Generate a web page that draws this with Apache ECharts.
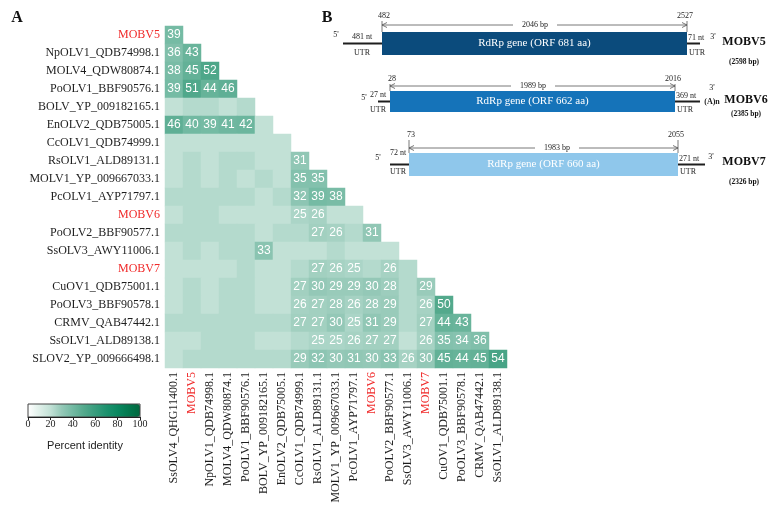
<!DOCTYPE html>
<html><head><meta charset="utf-8">
<script src="https://cdn.jsdelivr.net/npm/echarts@6/dist/echarts.min.js"></script>
<style>html,body{margin:0;padding:0;background:#fff}#c{width:772px;height:513px}</style>
</head><body><div id="c"></div>
<script>
// ---------- Panel A data ----------
const rowLabels = ['MOBV5','NpOLV1_QDB74998.1','MOLV4_QDW80874.1','PoOLV1_BBF90576.1','BOLV_YP_009182165.1',
  'EnOLV2_QDB75005.1','CcOLV1_QDB74999.1','RsOLV1_ALD89131.1','MOLV1_YP_009667033.1','PcOLV1_AYP71797.1',
  'MOBV6','PoOLV2_BBF90577.1','SsOLV3_AWY11006.1','MOBV7','CuOV1_QDB75001.1','PoOLV3_BBF90578.1',
  'CRMV_QAB47442.1','SsOLV1_ALD89138.1','SLOV2_YP_009666498.1'];
const colLabels = ['SsOLV4_QHG11400.1','MOBV5','NpOLV1_QDB74998.1','MOLV4_QDW80874.1','PoOLV1_BBF90576.1',
  'BOLV_YP_009182165.1','EnOLV2_QDB75005.1','CcOLV1_QDB74999.1','RsOLV1_ALD89131.1','MOLV1_YP_009667033.1',
  'PcOLV1_AYP71797.1','MOBV6','PoOLV2_BBF90577.1','SsOLV3_AWY11006.1','MOBV7','CuOV1_QDB75001.1',
  'PoOLV3_BBF90578.1','CRMV_QAB47442.1','SsOLV1_ALD89138.1'];
// percent identity, lower triangle (row i has cols 0..i); unlabeled cells estimated from shade
const identity = [
  [39],
  [36,43],
  [38,45,52],
  [39,51,44,46],
  [20,23,23,20,23],
  [46,40,39,41,42,20],
  [20,20,20,20,20,20,20],
  [20,23,20,23,23,20,20,31],
  [20,23,20,23,20,23,20,35,35],
  [23,23,23,23,23,20,23,32,39,38],
  [20,23,23,20,20,20,20,25,26,20,20],
  [23,23,23,23,23,20,23,23,27,26,23,31],
  [20,23,20,23,23,33,20,20,20,23,20,20,20],
  [20,20,20,20,23,20,20,23,27,26,25,23,26,23],
  [20,23,20,23,23,20,20,27,30,29,29,30,28,23,29],
  [20,23,20,23,23,20,20,26,27,28,26,28,29,23,26,50],
  [23,23,23,23,23,23,23,27,27,30,25,31,29,23,27,44,43],
  [20,20,23,23,23,20,20,23,25,25,26,27,27,20,26,35,34,36],
  [20,23,23,23,23,23,23,29,32,30,31,30,33,26,30,45,44,45,54]
];
const highlighted = ['MOBV5','MOBV6','MOBV7'];
const labelThreshold = 25;

// ---------- Panel B data ----------
const genomes   = ['MOBV5','MOBV6','MOBV7'];
const genomeLen = [2598, 2385, 2326];
const orfStart  = [482, 28, 73];
const orfEnd    = [2527, 2016, 2055];
const orfBp     = [2046, 1989, 1983];
const orfAa     = [681, 662, 660];
const utr5      = [481, 27, 72];
const utr3      = [71, 369, 271];
const polyA     = [false, true, false];

// ---------- layout / styles ----------
const SERIF = '"Liberation Serif","Times New Roman",serif';
const SANS = '"Liberation Sans",Arial,sans-serif';
const RED = '#f02a2a';
const INK = '#1e1e1e';

const layoutB = [
  {x0:382,x1:687,top:32,h:23,l:343,r:700,arrowY:25,numY:16,bpX:535,color:'#0b4b7c',txt:'#ffffff',
   p5:[336,35],u5:[362,37],utrL:[362,53],p3:[713,37],pa:null,nameX:744,nameY:42,subY:62},
  {x0:390,x1:675,top:91,h:21,l:378,r:700,arrowY:86,numY:79,bpX:533,color:'#1573b9',txt:'#ffffff',
   p5:[364,98],u5:[378,95],utrL:[378,110],p3:[712,88],pa:[712,102],nameX:746,nameY:100,subY:114},
  {x0:409,x1:678,top:153,h:23,l:390,r:705,arrowY:148,numY:135,bpX:557,color:'#8fc7eb',txt:'#ffffff',
   p5:[378,158],u5:[398,153],utrL:[398,172],p3:[711,157],pa:null,nameX:744,nameY:162,subY:182}
];

function txt(x, y, s, font, fill, align) {
  return {type:'text', x:x, y:y, silent:true,
    style:{text:s, font:font, fill:fill||INK, align:align||'center', verticalAlign:'middle'}};
}
function ln(x1,y1,x2,y2,w,c){
  return {type:'line', silent:true, shape:{x1:x1,y1:y1,x2:x2,y2:y2}, style:{stroke:c||INK, lineWidth:w||1}};
}

const graphics = [];
graphics.push(txt(17, 18, 'A', 'bold 16px '+SERIF, '#111'));
graphics.push(txt(327, 18, 'B', 'bold 16px '+SERIF, '#111'));

genomes.forEach((g, k) => {
  const L = layoutB[k];
  const midY = L.top + L.h/2;
  const small = '8px '+SERIF;
  graphics.push(ln(L.l, midY, L.x0, midY, 2));
  graphics.push(ln(L.x1, midY, L.r, midY, 2));
  graphics.push({type:'rect', silent:true, shape:{x:L.x0, y:L.top, width:L.x1-L.x0, height:L.h}, style:{fill:L.color}});
  graphics.push(txt((L.x0+L.x1)/2, midY, 'RdRp gene (ORF ' + orfAa[k] + ' aa)', '11px '+SERIF, L.txt));
  graphics.push(txt(L.x0+2, L.numY, String(orfStart[k]), small));
  graphics.push(txt(L.x1-2, L.numY, String(orfEnd[k]), small));
  graphics.push(ln(L.x0, L.numY+5, L.x0, L.top, 0.8, '#555'));
  graphics.push(ln(L.x1, L.numY+5, L.x1, L.top, 0.8, '#555'));
  graphics.push(ln(L.x0, L.arrowY, L.bpX-22, L.arrowY, 0.8, '#555'));
  graphics.push(ln(L.bpX+22, L.arrowY, L.x1, L.arrowY, 0.8, '#555'));
  graphics.push({type:'polyline', silent:true, shape:{points:[[L.x0+5,L.arrowY-2.5],[L.x0,L.arrowY],[L.x0+5,L.arrowY+2.5]]}, style:{stroke:'#555', lineWidth:0.8, fill:null}});
  graphics.push({type:'polyline', silent:true, shape:{points:[[L.x1-5,L.arrowY-2.5],[L.x1,L.arrowY],[L.x1-5,L.arrowY+2.5]]}, style:{stroke:'#555', lineWidth:0.8, fill:null}});
  graphics.push(txt(L.bpX, L.arrowY, orfBp[k] + ' bp', small));
  graphics.push(txt(L.p5[0], L.p5[1], "5'", small));
  graphics.push(txt(L.u5[0], L.u5[1], utr5[k] + ' nt', small));
  graphics.push(txt(L.utrL[0], L.utrL[1], 'UTR', small));
  graphics.push(txt(L.x1+1, midY-6, utr3[k] + ' nt', small, INK, 'left'));
  graphics.push(txt(L.x1+2, L.utrL[1], 'UTR', small, INK, 'left'));
  graphics.push(txt(L.p3[0], L.p3[1], "3'", small));
  if (polyA[k] && L.pa) graphics.push(txt(L.pa[0], L.pa[1], '(A)n', 'bold 8px '+SERIF));
  graphics.push(txt(L.nameX, L.nameY, g, 'bold 12px '+SERIF, '#111'));
  graphics.push(txt(L.nameX, L.subY, '(' + genomeLen[k] + ' bp)', 'bold 7.5px '+SERIF, '#111'));
});

const heatData = [];
identity.forEach((row, i) => row.forEach((v, j) => heatData.push([j, i, v])));

const labelColor = (v) => highlighted.indexOf(v) >= 0 ? RED : INK;

const chart = echarts.init(document.getElementById('c'), null, {renderer:'canvas'});
chart.setOption({
  animation:false,
  backgroundColor:'#ffffff',
  grid:[
    {left:165, top:26, width:342, height:342},
    {left:28, top:404, width:112, height:13, show:true, z:10, backgroundColor:'transparent', borderColor:'#444', borderWidth:1}
  ],
  xAxis:[
    {type:'category', gridIndex:0, data:colLabels, position:'bottom',
     axisLine:{show:false}, axisTick:{show:false}, splitLine:{show:false},
     axisLabel:{rotate:90, interval:0, margin:4, fontFamily:SERIF, fontSize:12, color:labelColor}},
    {type:'value', gridIndex:1, min:0, max:100, interval:20, position:'bottom', z:10,
     axisLine:{show:true, lineStyle:{color:'#222', width:1}}, axisTick:{show:true, length:3, lineStyle:{color:'#222'}},
     splitLine:{show:false}, axisLabel:{margin:2, fontFamily:SERIF, fontSize:10, color:'#222'}}
  ],
  yAxis:[
    {type:'category', gridIndex:0, data:rowLabels, inverse:true,
     axisLine:{show:false}, axisTick:{show:false}, splitLine:{show:false},
     axisLabel:{interval:0, margin:5, fontFamily:SERIF, fontSize:12, color:labelColor}},
    {type:'value', gridIndex:1, show:false, min:0, max:1}
  ],
  visualMap:{
    type:'continuous', min:0, max:100, seriesIndex:0, orient:'horizontal',
    left:28, top:404, itemWidth:13, itemHeight:112, padding:0,
    text:['',''], calculable:false, hoverLink:false, showLabel:false,
    inRange:{color:['#ffffff','#e0f0ea','#c2e1d6','#94c8b7','#72b9a2','#53a98c','#389d7d','#1d926e','#0a8860','#03784e','#00683e']}
  },
  graphic:{elements:graphics.concat([
    txt(85, 446, 'Percent identity', '11px '+SANS, '#222')
  ])},
  series:[{
    type:'heatmap', xAxisIndex:0, yAxisIndex:0, data:heatData,
    label:{show:true, color:'#ffffff', fontFamily:SANS, fontSize:12,
      formatter:(p)=> p.value[2] >= labelThreshold ? String(p.value[2]) : ''},
    itemStyle:{borderWidth:0},
    emphasis:{disabled:true}
  }]
});
</script>
</body></html>
